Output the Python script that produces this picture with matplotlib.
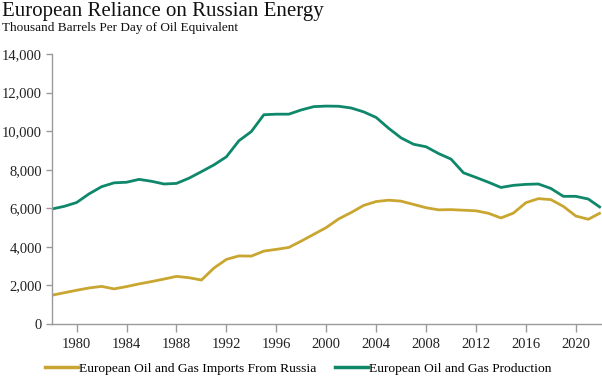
import matplotlib

matplotlib.use("Agg")
import matplotlib.pyplot as plt  # noqa: E402
from matplotlib.lines import Line2D  # noqa: E402
from matplotlib.ticker import FuncFormatter  # noqa: E402

years = list(range(1978, 2023))

# thousand barrels per day of oil equivalent
imports_russia = [
    1490, 1620, 1750, 1870, 1950, 1820, 1940, 2080, 2200, 2330,
    2470, 2400, 2280, 2900, 3350, 3530, 3520, 3780, 3870, 3970,
    4300, 4650, 5000, 5450, 5780, 6150, 6350, 6420, 6370, 6200,
    6030, 5920, 5930, 5900, 5870, 5740, 5500, 5750, 6290, 6500,
    6450, 6100, 5600, 5430, 5770,
]
production = [
    5960, 6100, 6300, 6750, 7120, 7320, 7350, 7500, 7400, 7260,
    7290, 7560, 7900, 8250, 8670, 9500, 9980, 10850, 10880, 10880,
    11100, 11270, 11300, 11290, 11200, 11000, 10710, 10150, 9650, 9320,
    9190, 8840, 8550, 7840, 7600, 7350, 7080, 7190, 7240, 7260,
    7030, 6620, 6620, 6480, 6030,
]

labels = ["European Oil and Gas Imports From Russia", "European Oil and Gas Production"]
colors = ["#C9A630", "#0E876A"]
xticks = list(range(1980, 2021, 4))
yticks = list(range(0, 14001, 2000))

plt.rcParams["font.family"] = ["Liberation Serif", "DejaVu Serif"]

fig = plt.figure(figsize=(6.02, 3.76), dpi=100)
ax = fig.add_axes([51.7 / 602, 1 - 324 / 376, 1 - 51.7 / 602, 270 / 376])

for series, color in zip([imports_russia, production], colors):
    ax.plot(years, series, color=color, lw=2.0, solid_joinstyle="round",
            solid_capstyle="butt")

ax.set_xlim(1978, 2022.1)
ax.set_ylim(0, 14000)
ax.set_xticks(xticks)
ax.set_yticks(yticks)
ax.yaxis.set_major_formatter(FuncFormatter(lambda v, _: f"{int(v):,}"))

for side in ("top", "right"):
    ax.spines[side].set_visible(False)
for side in ("left", "bottom"):
    ax.spines[side].set_color("#9a9a9a")
    ax.spines[side].set_linewidth(1.0)
ax.tick_params(axis="both", colors="#9a9a9a", labelcolor="#222222", labelsize=10.5,
               width=1.0)
ax.tick_params(axis="x", length=6, pad=4)
ax.tick_params(axis="y", length=4, pad=3)

fig.text(0.004, 0.957, "European Reliance on Russian Energy", fontsize=15,
         color="#111111", va="baseline")
fig.text(0.004, 0.917, "Thousand Barrels Per Day of Oil Equivalent", fontsize=9.5,
         color="#111111", va="baseline")

handles = [Line2D([], [], color=c, lw=2.5) for c in colors]
fig.legend(handles, labels, loc="lower left", bbox_to_anchor=(0.062, -0.018), ncol=2,
           frameon=False, fontsize=9.7, handlelength=2.4, handletextpad=0.1,
           columnspacing=1.4, borderaxespad=0.2)

fig.savefig("out.png", dpi=100)
